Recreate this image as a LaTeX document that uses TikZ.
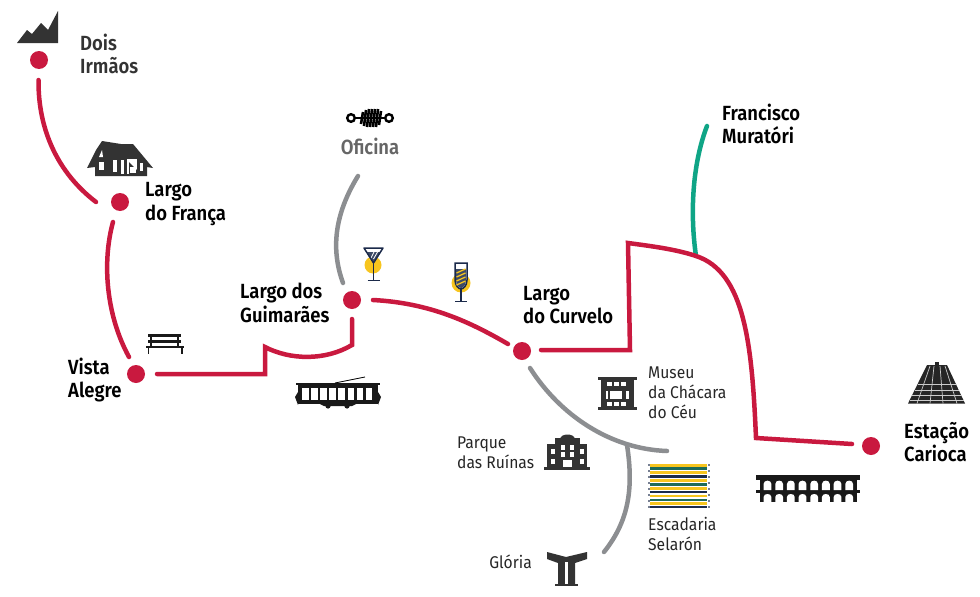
\documentclass[tikz,border=0pt]{standalone}
\usepackage{fontspec}
\setmainfont{Fira Sans}
\newfontfamily\condbold[FakeStretch=0.9]{Fira Sans SemiBold}
\newfontfamily\condreg[FakeStretch=0.92]{Fira Sans}
\definecolor{rd}{HTML}{C9193F}
\definecolor{gy}{HTML}{8C8E91}
\definecolor{gn}{HTML}{0FA586}
\definecolor{ic}{HTML}{333333}
\definecolor{nv}{HTML}{1B2A4A}
\definecolor{yl}{HTML}{F7C51E}
\definecolor{dgn}{HTML}{1E6B58}
\tikzset{
 stop/.style={circle,fill=rd,minimum size=18pt,inner sep=0pt},
 redline/.style={draw=rd,line width=4.5pt,line cap=round,line join=miter},
 grayline/.style={draw=gy,line width=4.5pt,line cap=round},
 greenline/.style={draw=gn,line width=4.5pt,line cap=round},
 bigl/.style={font=\condbold\fontsize{20.5}{23.5}\selectfont,align=left,anchor=west,inner sep=0pt,text=black},
 smalll/.style={font=\condreg\fontsize{17}{20}\selectfont,align=left,anchor=west,inner sep=0pt,text=black!85},
 icon/.style={fill=ic,draw=none},
 blk/.style={fill=black!90,draw=none},
 wht/.style={fill=white,draw=none},
 pyrl/.style={draw=white!80!black,line width=.7pt}
}
\begin{document}
\begin{tikzpicture}[x=1pt,y=-1pt]
\useasboundingbox (0,0) rectangle (980,597);
% stops
\node[stop] (dois) at (39,60) {};
\node[stop] (franca) at (120,202) {};
\node[stop] (vista) at (136,374) {};
\node[stop] (guim) at (352,300) {};
\node[stop] (curv) at (522,351) {};
\node[stop] (carioca) at (871,446) {};
% labels
\node[bigl,text=ic] (tdois) at (80,54) {Dois\\Irmãos};
\node[bigl] (tfranca) at (145,204) {Largo\\do França};
\node[bigl] (tvista) at (68,380) {Vista\\Alegre};
\node[bigl] (tguim) at (240,303) {Largo dos\\Guimarães};
\node[bigl] (tcurv) at (523,305) {Largo\\do Curvelo};
\node[bigl] (tcar) at (904,442) {Estação\\Carioca};
\node[bigl] (tmur) at (722,124) {Francisco\\Muratóri};
\node[bigl,text=black!60,anchor=center] (tofi) at (370,146) {Oficina};
\node[smalll] (tmus) at (648,393) {Museu\\da Chácara\\do Céu};
\node[smalll] (tpar) at (457,453) {Parque\\das Ruínas};
\node[smalll] (tesc) at (648,534) {Escadaria\\Selarón};
\node[smalll,anchor=east] (tglo) at (532,562) {Glória};
% free ends
\coordinate (a1) at (38.5,80); \coordinate (a2) at (96,202);
\coordinate (b1) at (113,222); \coordinate (b2) at (129,357);
\coordinate (c1) at (157,374); \coordinate (c2) at (352,319);
\coordinate (d1) at (373,300); \coordinate (d2) at (508,344);
\coordinate (e1) at (541,350); \coordinate (e2) at (852,444);
\coordinate (j1) at (696,256);
\coordinate (m1) at (707,126);
\coordinate (o1) at (358,176); \coordinate (o2) at (343,283);
\coordinate (g1) at (530,368); \coordinate (g2) at (667,451);
\coordinate (j2) at (627,445); \coordinate (h2) at (604,552);
% connectors
\draw[greenline] (m1) .. controls (692,165) and (690,215) .. (j1);
\draw[redline] (a1) .. controls (38,130) and (58,173) .. (a2);
\draw[redline] (b1) .. controls (102,262) and (106,315) .. (b2);
\draw[redline] (c1) -- (265,374) -- (265,347) .. controls (290,360) and (325,361) .. (352,345) -- (c2);
\draw[redline] (d1) .. controls (430,303) and (470,322) .. (d2);
\draw[redline] (e1) -- (630,350) -- (628,243) .. controls (650,246) and (675,249) .. (j1) .. controls (745,272) and (752,345) .. (756,438) -- (e2);
\draw[grayline] (o1) .. controls (334,215) and (331,250) .. (o2);
\draw[grayline] (j2) .. controls (634,490) and (628,522) .. (h2);
\draw[grayline] (g1) .. controls (560,415) and (610,449) .. (g2);
% mountains
\fill[icon] (17,43) -- (27,30) -- (32,34) -- (41,23) -- (48,30) -- (58,11) -- (58,43) -- cycle;
% house
\fill[icon] (87,168) -- (96,150) -- (102,141) -- (121,144) -- (133,144) -- (153,168) -- (147,167) -- (147,176) -- (95,176) -- (95,167) -- cycle;
\foreach \xa/\ya/\xb/\yb in {99/162/104/170, 113/160/117/172, 121/160/124/174, 127/159/137/174, 140/163/143/171}{\fill[wht] (\xa,\ya) rectangle (\xb,\yb);}
\fill[wht] (99,157) -- (102,150) -- (103,157) -- cycle;
\fill[icon] (129,162) -- (137,170) -- (137,174) -- (129,174) -- cycle;
\fill[wht] (130,167) rectangle (136,173);
% bench
\fill[blk] (148,334) rectangle (181,336.5);
\fill[blk] (148,340) rectangle (181,342.5);
\fill[blk] (146,346) rectangle (184,348);
\fill[blk] (150,334) rectangle (152,346);\fill[blk] (177,334) rectangle (179,346);
\fill[blk] (147.5,348) rectangle (149,354);\fill[blk] (181,348) rectangle (182.5,354);
% tram
\fill[blk] (296,382.5) rectangle (380,385);
\draw[black,line width=.8pt] (335,383) -- (365,377);
\fill[blk] (298,385) rectangle (378,404);
\foreach \i in {0,...,7}{\fill[wht] (302+\i*9.1,387.5) rectangle (308.5+\i*9.1,400);}
\fill[blk] (295,397) -- (298,392) -- (298,405) -- cycle;
\fill[blk] (381,397) -- (378,392) -- (378,405) -- cycle;
\fill[blk] (320,404) -- (356,404) -- (352,406) -- (324,406) -- cycle;
\fill[blk] (328,406) circle (2.6); \fill[blk] (347,406) circle (2.6);
% shock absorber
\draw[black,line width=2.4pt] (351,118) circle (3.8);
\draw[black,line width=2.4pt] (389,118) circle (3.8);
\draw[black,line width=2.4pt] (355,118) -- (385,118);
\foreach \x/\h in {362/6,365/8,368/9,371/9,374/9,377/9,380/7}{\draw[black,line width=2.6pt] (\x+1,118-\h) -- (\x-1,118+\h);}
% cocktail
\fill[yl] (373,265) circle (8.5);
\fill[white] (364,248) -- (383,248) -- (373.5,263) -- cycle;
\fill[nv!85] (367,252) -- (380,252) -- (373.5,262) -- cycle;
\foreach \s in {0,1,2}{\draw[white,line width=.8pt] (370+\s*3.5,260-\s*1) -- (374+\s*3.5,252-\s*0);}
\draw[nv,line width=1.5pt,line join=round] (364,248) -- (383,248) -- (373.5,263) -- cycle;
\draw[nv,line width=1.2pt] (373.5,263) -- (373.5,280);
\draw[nv,line width=1.5pt] (367.5,280.5) -- (379.5,280.5);
% flute
\fill[yl] (461,283) circle (9.5);
\draw[nv,line width=1.5pt,fill=white] (455,263) -- (467,263) -- (467,280) .. controls (467,286) and (463,289) .. (461,289) .. controls (459,289) and (455,286) .. (455,280) -- cycle;
\fill[nv!85] (456,269) -- (466,269) -- (466,280) .. controls (466,285) and (463,288) .. (461,288) .. controls (459,288) and (456,285) .. (456,280) -- cycle;
\foreach \y in {271,275,279,283}{\draw[yl,line width=1.3pt] (456.5,\y+2) -- (465.5,\y-2);}
\draw[nv,line width=1.2pt] (461,289) -- (461,301);
\draw[nv,line width=1.5pt] (455,301.5) -- (467,301.5);
% museum
\fill[icon] (598,376.5) rectangle (637,380);
\fill[icon] (598,407) rectangle (637,410);
\fill[icon] (601,380) rectangle (634,407);
\foreach \x in {607,614,621}{\fill[wht] (\x,382) rectangle (\x+4.5,386);\fill[wht] (\x,402) rectangle (\x+4.5,406);}
\fill[wht] (606,391) rectangle (607.5,399);
\fill[wht] (610,391) rectangle (622,399);
\fill[wht] (626,391) rectangle (629,399);
% parque
\fill[icon] (544,467) rectangle (590,470);
\fill[icon] (547,444) rectangle (587,467);
\fill[icon] (555,438) rectangle (580,444);
\fill[icon] (560,439) .. controls (561,433) and (574,433) .. (575,439) -- cycle;
\foreach \x/\y in {561/445, 570/445, 551/449, 580/449, 561/452, 570/452, 551/459, 580/459}{\fill[wht] (\x,\y) rectangle (\x+4,\y+4.5);}
\fill[wht] (563,460) rectangle (572,467);
% Selaron
\foreach \y/\c in {464/yl,467/dgn,471/yl,475/nv,479/yl,483/dgn,487/yl,490.5/nv,494.5/yl,498.5/dgn,502/yl,505.5/nv}{\fill[\c] (650,\y) rectangle (707,\y+2.7);}
\foreach \y in {464,470,476,482,488,494,500,506}{\fill[nv!60] (648,\y) rectangle (649.5,\y+2);\fill[nv!60] (708,\y) rectangle (709.5,\y+2);}
% Gloria
\fill[icon] (547,552) -- (566,557) -- (587,552) -- (587,559) -- (575,563) -- (575,584) -- (558,584) -- (558,563) -- (547,559) -- cycle;
\fill[icon] (555,584) rectangle (578,586);
\fill[wht] (565.3,562) rectangle (567.7,584);
% aqueduct
\fill[blk] (756,475) rectangle (860,480);
\fill[blk] (760,480) rectangle (857,502);
\fill[blk] (756,490) rectangle (860,493);
\foreach \i in {0,...,7}{
 \pgfmathsetmacro{\c}{767.5+\i*11.67}
 \fill[wht] (\c-3.9,490) -- (\c-3.9,484) .. controls (\c-3.9,479.5) and (\c+3.9,479.5) .. (\c+3.9,484) -- (\c+3.9,490) -- cycle;
 \fill[wht] (\c-3.9,502.2) -- (\c-3.9,497) .. controls (\c-3.9,493) and (\c+3.9,493) .. (\c+3.9,497) -- (\c+3.9,502.2) -- cycle;
}
\fill[wht] (755,480) rectangle (760,490);
\fill[wht] (857,480) rectangle (861,490);
% pyramid
\fill[black!85] (908,403.5) -- (927,365) -- (947,365) -- (965,403.5) -- cycle;
\fill[black!85] (935,362) rectangle (939,366);
\foreach \a/\b in {930/917, 934/930, 940/943, 945/957}{\draw[pyrl] (\a,366) -- (\b,403.5);}
\foreach \y/\xa/\xb in {384/918/956,390/915/959,395/912/962,400/910/964}{\draw[pyrl] (\xa,\y) -- (\xb,\y);}
\end{tikzpicture}
\end{document}
